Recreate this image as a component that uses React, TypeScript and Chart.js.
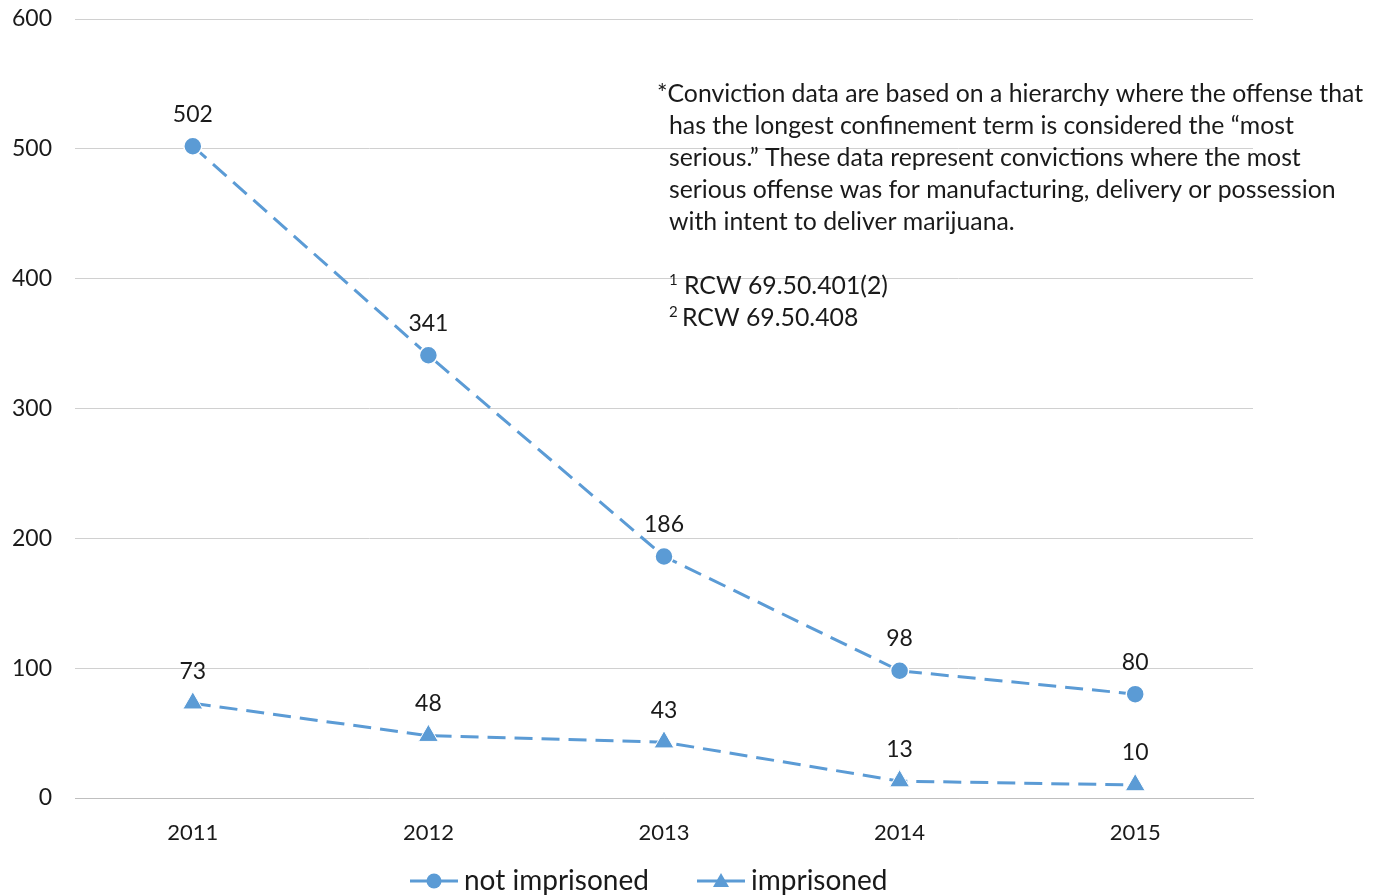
import React, { useEffect, useRef } from 'react';
import { Chart, registerables } from 'chart.js';

Chart.register(...registerables);

const categories = ['2011', '2012', '2013', '2014', '2015'];
const notImprisoned = [502, 341, 186, 98, 80];
const imprisoned = [73, 48, 43, 13, 10];
const seriesNames = ['not imprisoned', 'imprisoned'];
const yMin = 0;
const yMax = 600;
const yStep = 100;
const noteLines = [
  '*Conviction data are based on a hierarchy where the offense that',
  'has the longest confinement term is considered the \u201cmost',
  'serious.\u201d These data represent convictions where the most',
  'serious offense was for manufacturing, delivery or possession',
  'with intent to deliver marijuana.',
];
const footnotes = [
  ['1', 'RCW 69.50.401(2)'],
  ['2', 'RCW 69.50.408'],
];

const FONT = 'Lato, "Open Sans", sans-serif';
const BLUE = '#5B9BD5';
const TEXT = '#1a1a1a';

const overlayPlugin = {
  id: 'overlay',
  afterDatasetsDraw(chart: any) {
    const ctx = chart.ctx;
    ctx.save();
    // data labels
    ctx.fillStyle = TEXT;
    ctx.font = `23px ${FONT}`;
    ctx.textAlign = 'center';
    ctx.textBaseline = 'middle';
    chart.data.datasets.forEach((ds: any, i: number) => {
      const meta = chart.getDatasetMeta(i);
      meta.data.forEach((pt: any, j: number) => {
        ctx.fillText(String(ds.data[j]), pt.x, pt.y - 32);
      });
    });
    // note text
    ctx.textAlign = 'left';
    ctx.font = `24.8px ${FONT}`;
    noteLines.forEach((line, k) => {
      const x = k === 0 ? 657 : 669;
      ctx.fillText(line, x, 94 + k * 32);
    });
    footnotes.forEach(([sup, txt], k) => {
      const y = 286 + k * 32;
      ctx.font = `15px ${FONT}`;
      ctx.fillText(sup, 669, y - 6);
      ctx.font = `24.8px ${FONT}`;
      ctx.fillText(txt, 684 - (k === 1 ? 2 : 0), y);
    });
    // legend
    const legendY = 881;
    const items = [
      { x: 410, style: 'circle', label: seriesNames[0] },
      { x: 697, style: 'triangle', label: seriesNames[1] },
    ];
    items.forEach((it) => {
      ctx.strokeStyle = BLUE;
      ctx.lineWidth = 3;
      ctx.setLineDash([]);
      ctx.beginPath();
      ctx.moveTo(it.x, legendY);
      ctx.lineTo(it.x + 48, legendY);
      ctx.stroke();
      ctx.fillStyle = BLUE;
      ctx.beginPath();
      if (it.style === 'circle') {
        ctx.arc(it.x + 24, legendY, 7.5, 0, Math.PI * 2);
      } else {
        ctx.moveTo(it.x + 24, legendY - 8);
        ctx.lineTo(it.x + 32, legendY + 6);
        ctx.lineTo(it.x + 16, legendY + 6);
        ctx.closePath();
      }
      ctx.fill();
      ctx.fillStyle = TEXT;
      ctx.font = `28px ${FONT}`;
      ctx.textAlign = 'left';
      ctx.textBaseline = 'middle';
      ctx.fillText(it.label, it.x + 54, legendY);
    });
    ctx.restore();
  },
};

export default function App() {
  const ref = useRef<HTMLCanvasElement | null>(null);
  useEffect(() => {
    if (!ref.current) return;
    const chart = new Chart(ref.current, {
      type: 'line',
      data: {
        labels: categories,
        datasets: [
          {
            label: seriesNames[0],
            data: notImprisoned,
            borderColor: BLUE,
            backgroundColor: BLUE,
            borderWidth: 3,
            borderDash: [18, 9],
            pointStyle: 'circle',
            pointRadius: 9,
            pointBorderColor: '#ffffff',
            pointBorderWidth: 1.5,
            pointBackgroundColor: BLUE,
            tension: 0,
          },
          {
            label: seriesNames[1],
            data: imprisoned,
            borderColor: BLUE,
            backgroundColor: BLUE,
            borderWidth: 3,
            borderDash: [18, 9],
            pointStyle: 'triangle',
            pointRadius: 11.5,
            pointBorderColor: '#ffffff',
            pointBorderWidth: 1,
            pointBackgroundColor: BLUE,
            tension: 0,
          },
        ],
      },
      options: {
        animation: false,
        responsive: false,
        layout: { padding: { top: 19, right: 125, bottom: 50, left: 0 } },
        plugins: {
          legend: { display: false },
          tooltip: { enabled: false },
        },
        scales: {
          x: {
            offset: true,
            grid: { display: false, drawTicks: false },
            border: { display: true, color: '#bfbfbf', width: 1 },
            ticks: { color: TEXT, font: { family: FONT, size: 22 }, padding: 22 },
            afterFit: (s: any) => { s.height = 48; s.paddingLeft = 0; s.paddingRight = 0; },
          },
          y: {
            min: yMin,
            max: yMax,
            grid: { color: '#d0d0d0', lineWidth: 1, drawTicks: false },
            border: { display: false },
            ticks: { stepSize: yStep, color: TEXT, font: { family: FONT, size: 23 }, padding: 23 },
            afterFit: (s: any) => { s.width = 75; s.paddingTop = 0; s.paddingBottom = 0; },
          },
        },
      },
      plugins: [overlayPlugin],
    });
    return () => chart.destroy();
  }, []);
  return (
    <div style={{ position: 'absolute', left: 0, top: 0, width: 1378, height: 896, background: '#fff' }}>
      <canvas ref={ref} width={1378} height={896} style={{ display: 'block' }} />
    </div>
  );
}
